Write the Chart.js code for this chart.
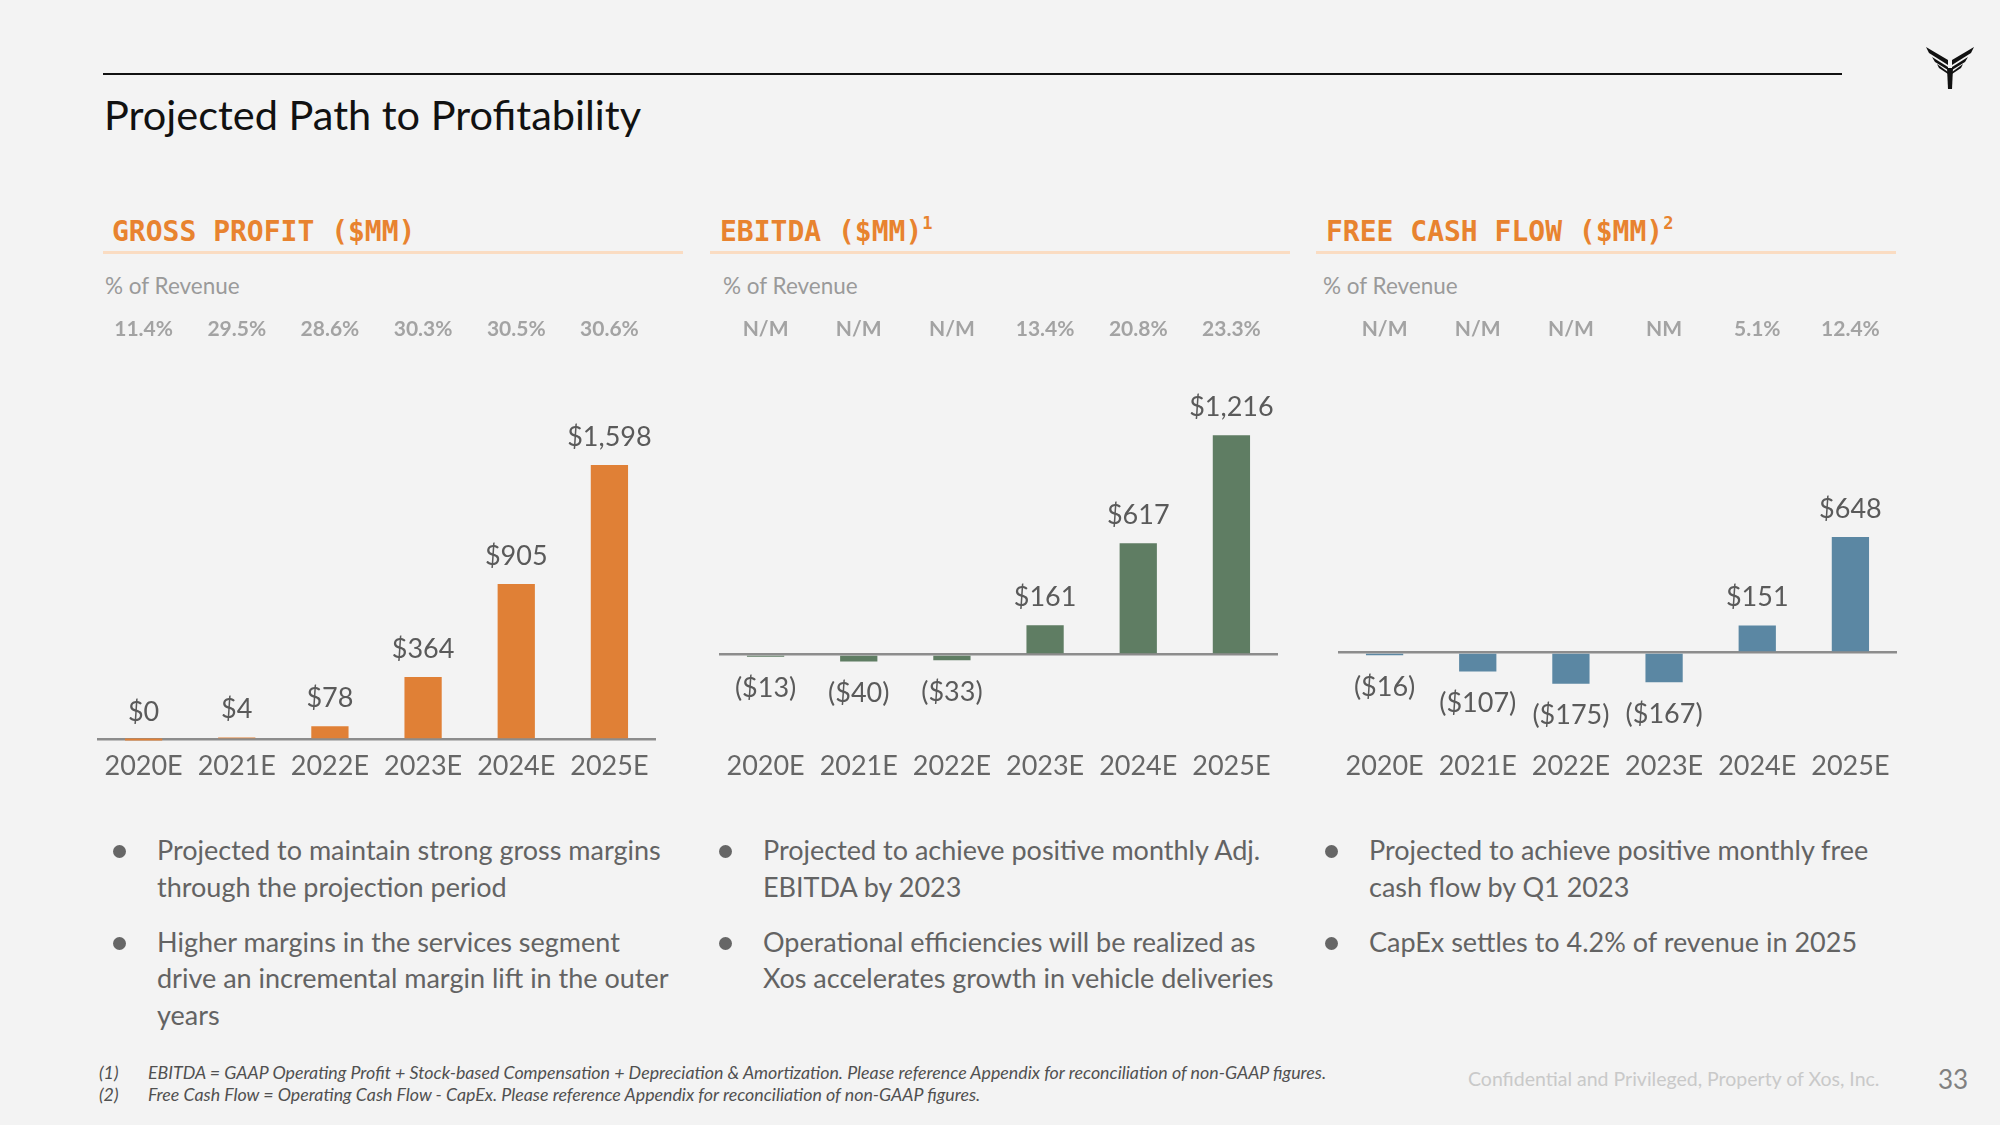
<!DOCTYPE html>
<html>
<head>
<meta charset="utf-8">
<script src="https://cdn.jsdelivr.net/npm/chart.js@4.4.1/dist/chart.umd.min.js"></script>
<style>
  body { margin: 0; width: 2000px; height: 1125px; background: #f3f3f3; font-family: Lato, sans-serif; position: relative; overflow: hidden; }
  .abs { position: absolute; white-space: nowrap; }
  .rule { position: absolute; left: 103px; top: 73px; width: 1739px; height: 2px; background: #111; }
  h1 { position: absolute; left: 104px; top: 89px; margin: 0; font-weight: 400; font-size: 41.5px; line-height: 50px; color: #111; white-space: nowrap; }
  .head { position: absolute; font-family: 'DejaVu Sans Mono', monospace; font-weight: bold; font-size: 28px; line-height: 40px; top: 212px; color: #e8832f; white-space: nowrap; }
  .head sup { font-size: 17px; vertical-align: 12px; line-height: 0; }
  .uline { position: absolute; top: 251px; width: 580px; height: 3px; background: #fadcc2; }
  .rev { position: absolute; top: 273px; font-size: 22.5px; line-height: 26px; color: #9a9a9a; white-space: nowrap; }
  canvas { position: absolute; top: 300px; }
  .bul { position: absolute; top: 832px; font-size: 27px; line-height: 36.5px; color: #636363; }
  .bul div { position: relative; margin-bottom: 18.5px; white-space: nowrap; }
  .bul div::before { content: ''; position: absolute; left: -44px; top: 13px; width: 13px; height: 13px; border-radius: 50%; background: #666; }
  .foot { position: absolute; font-size: 17.8px; font-style: italic; color: #505050; line-height: 22px; white-space: nowrap; }
  .conf { position: absolute; left: 1468px; top: 1066px; font-size: 19.5px; line-height: 26px; color: #c9c9c9; white-space: nowrap; }
  .page { position: absolute; left: 1938px; top: 1064px; font-size: 26px; line-height: 30px; color: #808080; }
</style>
</head>
<body>
<div class="rule"></div>
<h1>Projected Path to Profitability</h1>

<div class="head" style="left:112px">GROSS PROFIT ($MM)</div>
<div class="head" style="left:720px">EBITDA ($MM)<sup>1</sup></div>
<div class="head" style="left:1326px">FREE CASH FLOW ($MM)<sup>2</sup></div>
<div class="uline" style="left:103px"></div>
<div class="uline" style="left:710px"></div>
<div class="uline" style="left:1316px"></div>
<div class="rev" style="left:105px">% of Revenue</div>
<div class="rev" style="left:723px">% of Revenue</div>
<div class="rev" style="left:1323px">% of Revenue</div>

<canvas id="gp-chart" width="559" height="486" style="left:97px"></canvas>
<canvas id="ebitda-chart" width="559" height="486" style="left:719px"></canvas>
<canvas id="fcf-chart" width="559" height="486" style="left:1338px"></canvas>

<div class="bul" style="left:157px">
  <div>Projected to maintain strong gross margins<br>through the projection period</div>
  <div>Higher margins in the services segment<br>drive an incremental margin lift in the outer<br>years</div>
</div>
<div class="bul" style="left:763px">
  <div>Projected to achieve positive monthly Adj.<br>EBITDA by 2023</div>
  <div>Operational efficiencies will be realized as<br>Xos accelerates growth in vehicle deliveries</div>
</div>
<div class="bul" style="left:1369px">
  <div>Projected to achieve positive monthly free<br>cash flow by Q1 2023</div>
  <div>CapEx settles to 4.2% of revenue in 2025</div>
</div>

<div class="foot" style="left:99px;top:1061px">(1)</div>
<div class="foot" style="left:148px;top:1061px">EBITDA = GAAP Operating Profit + Stock-based Compensation + Depreciation &amp; Amortization. Please reference Appendix for reconciliation of non-GAAP figures.</div>
<div class="foot" style="left:99px;top:1083px">(2)</div>
<div class="foot" style="left:148px;top:1083px">Free Cash Flow = Operating Cash Flow - CapEx. Please reference Appendix for reconciliation of non-GAAP figures.</div>
<div class="conf">Confidential and Privileged, Property of Xos, Inc.</div>
<div class="page">33</div>

<svg class="abs" style="left:1925px;top:44px" width="50" height="46" viewBox="0 0 50 46">
  <path d="M1 3 L23 16 L23 21 L4 9 Z" fill="#111"/>
  <path d="M49 3 L27 16 L27 21 L46 9 Z" fill="#111"/>
  <path d="M7 13 L23 23 L23 26 L10 18 Z" fill="#111"/>
  <path d="M43 13 L27 23 L27 26 L40 18 Z" fill="#111"/>
  <path d="M12 20 L23 28 L23 30 L14 24 Z" fill="#111"/>
  <path d="M38 20 L27 28 L27 30 L36 24 Z" fill="#111"/>
  <path d="M22 24 L28 24 L27 45 L23 45 Z" fill="#111"/>
</svg>

<script>
const YEARS = ['2020E', '2021E', '2022E', '2023E', '2024E', '2025E']

const GROSS_PROFIT = [0, 4, 78, 364, 905, 1598]
const GROSS_MARGIN = ['11.4%', '29.5%', '28.6%', '30.3%', '30.5%', '30.6%']

const EBITDA = [-13, -40, -33, 161, 617, 1216]
const EBITDA_MARGIN = ['N/M', 'N/M', 'N/M', '13.4%', '20.8%', '23.3%']

const FCF = [-16, -107, -175, -167, 151, 648]
const FCF_MARGIN = ['N/M', 'N/M', 'N/M', 'NM', '5.1%', '12.4%']

function money(v) {
  const s = '$' + Math.abs(v).toString().replace(/\B(?=(\d{3})+(?!\d))/g, ',')
  return v < 0 ? '(' + s + ')' : s
}

// % of revenue row, centred on each category
const pctRow = {
  id: 'pctRow',
  afterDraw(chart, args, opts) {
    const ctx = chart.ctx
    const x = chart.scales.x
    ctx.save()
    ctx.font = 'bold 21px Lato'
    ctx.fillStyle = '#a3a3a3'
    ctx.textAlign = 'center'
    ctx.textBaseline = 'middle'
    opts.labels.forEach((t, i) => ctx.fillText(t, x.getPixelForValue(i), 29))
    ctx.restore()
  }
}

// $ labels above positive bars, below negative ones
const valueLabels = {
  id: 'valueLabels',
  afterDatasetsDraw(chart) {
    const ctx = chart.ctx
    const meta = chart.getDatasetMeta(0)
    const data = chart.data.datasets[0].data
    ctx.save()
    ctx.font = '27px Lato'
    ctx.fillStyle = '#5a5a5a'
    ctx.textAlign = 'center'
    ctx.textBaseline = 'middle'
    meta.data.forEach((bar, i) => {
      const v = data[i]
      const y = v < 0 ? bar.y + 32 : bar.y - 28
      ctx.fillText(money(v), bar.x, y)
    })
    ctx.restore()
  }
}

function makeChart(canvasId, values, margins, color, yMin, yMax) {
  const ctx = document.getElementById(canvasId).getContext('2d')
  return new Chart(ctx, {
    type: 'bar',
    data: {
      labels: YEARS,
      datasets: [{
        data: values,
        backgroundColor: color,
        barPercentage: 0.8,
        categoryPercentage: 0.5,
        minBarLength: 2,
      }],
    },
    options: {
      animation: false,
      responsive: false,
      layout: { padding: { top: 80, left: 0, right: 0, bottom: 0 } },
      plugins: { legend: { display: false }, tooltip: { enabled: false }, pctRow: { labels: margins } },
      scales: {
        x: {
          grid: { display: false, drawTicks: false },
          border: { display: false },
          ticks: { color: '#666', font: { family: 'Lato', size: 27 }, padding: 4 },
        },
        y: {
          min: yMin,
          max: yMax,
          grid: { color: '#8c8c8c', lineWidth: 2.5, drawTicks: false },
          border: { display: false },
          ticks: { display: false },
          afterBuildTicks: s => { s.ticks = [{ value: 0 }] },
        },
      },
    },
    plugins: [pctRow, valueLabels],
  })
}

makeChart('gp-chart', GROSS_PROFIT, GROSS_MARGIN, '#e08036', -35, 2093)
makeChart('ebitda-chart', EBITDA, EBITDA_MARGIN, '#5f7d63', -506, 1522)
makeChart('fcf-chart', FCF, FCF_MARGIN, '#5b87a3', -522, 1528)
</script>
</body>
</html>
